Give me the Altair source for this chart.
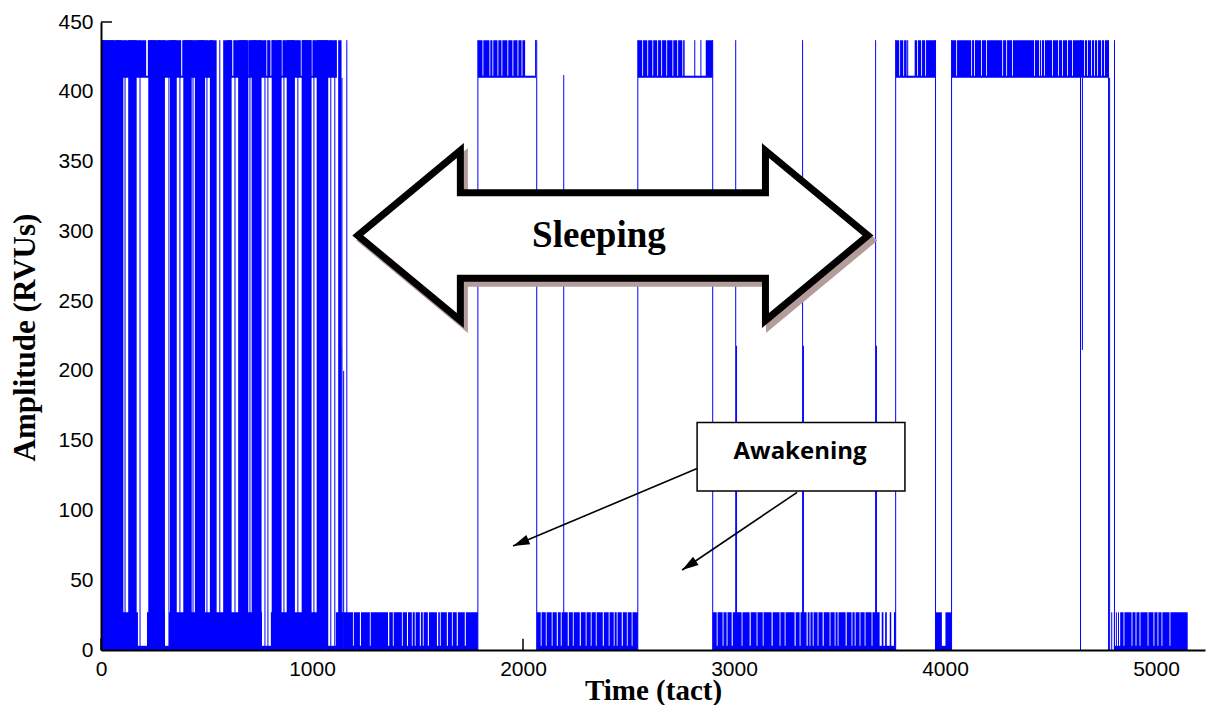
import altair as alt
import pandas as pd

BLUE = "#0000ff"
XMAX = 5232
W, H = 1104, 628

# ---------------- data ----------------
x_tick_values = [0, 1000, 2000, 3000, 4000, 5000]
y_tick_values = [0, 50, 100, 150, 200, 250, 300, 350, 400, 450]

LOW_LEVEL = (0, 27)      # low state of the signal (RVU)
HIGH_LEVEL = (410, 437)  # high state of the signal (RVU)
FULL_LEVEL = (0, 437)

# stretches where the signal jumps over the whole range many times
burst_start = [0, 129, 224, 327, 390, 445, 516, 579, 650, 714, 809, 880, 951, 1022, 1124]
burst_end = [106, 169, 303, 359, 430, 493, 548, 619, 698, 761, 856, 919, 998, 1077, 1140]

# stretches of fast switching inside the low state
low_start = [0, 1150, 2065, 2899, 3955, 4800]
low_end = [1150, 1786, 2544, 3766, 4031, 5150]

# stretches of fast switching inside the high state
high_start = [0, 597, 1786, 2544, 3766, 4031]
high_end = [530, 1118, 2060, 2899, 3955, 4775]

# short spells without switching inside the low state (signal stays near 0)
low_dip_start = [175, 303, 763, 1066,
                 1194, 1227, 1274, 1360, 1383, 1426, 1450, 1473, 1487, 1511, 1525, 1549,
                 1592, 1606, 1639, 1663, 1686, 1724,
                 2084, 2108, 2136, 2160, 2179, 2212, 2236, 2269, 2297, 2321, 2345, 2378,
                 2406, 2430, 2444, 2468, 2492, 2515,
                 2918, 2946, 2965, 2989, 3036, 3074, 3107, 3136, 3178, 3216, 3240, 3287,
                 3311, 3344, 3358, 3373, 3396, 3420, 3453, 3477, 3491, 3529, 3557, 3572,
                 3595, 3619, 3652, 3690, 3708, 3724, 3745,
                 3985,
                 4800, 4846, 4884, 4903, 4922, 4960, 4988, 5007, 5026, 5064]
low_dip_end = [218, 322, 805, 1113,
               1198, 1232, 1278, 1366, 1387, 1430, 1455, 1477, 1491, 1516, 1529, 1554,
               1598, 1610, 1644, 1667, 1691, 1729,
               2088, 2112, 2140, 2165, 2183, 2217, 2240, 2274, 2301, 2325, 2349, 2383,
               2410, 2434, 2448, 2473, 2496, 2519,
               2922, 2950, 2969, 2994, 3040, 3079, 3111, 3140, 3183, 3220, 3244, 3292,
               3315, 3349, 3362, 3377, 3400, 3425, 3457, 3481, 3495, 3534, 3561, 3576,
               3599, 3623, 3656, 3700, 3716, 3738, 3758,
               4002,
               4830, 4850, 4888, 4907, 4926, 4964, 4992, 5011, 5030, 5068]

# short spells without switching inside the high state (signal stays near 410)
high_dip_start = [62, 98, 214, 262, 286, 380, 452, 622, 693, 740, 784, 803, 827, 855, 947, 997,
                  1808, 1841, 1855, 1879, 1898, 1926, 1950, 1974, 1993, 2010,
                  2565, 2589, 2613, 2636, 2655, 2679, 2708, 2731, 2755, 2766,
                  3783, 3802, 3818, 3868, 3887, 3906,
                  4053, 4124, 4138, 4171, 4195, 4271, 4290, 4318, 4422, 4446, 4455, 4469,
                  4507, 4536, 4555, 4578, 4602, 4659, 4673, 4692, 4706, 4721, 4740, 4754]
high_dip_end = [67, 103, 222, 267, 291, 385, 457, 627, 698, 745, 789, 808, 832, 860, 952, 1002,
                1812, 1845, 1859, 1883, 1902, 1930, 1954, 1978, 1997, 2058,
                2569, 2593, 2617, 2640, 2659, 2683, 2712, 2735, 2759, 2866,
                3787, 3806, 3856, 3872, 3891, 3910,
                4057, 4128, 4142, 4175, 4199, 4275, 4294, 4322, 4426, 4450, 4459, 4473,
                4511, 4540, 4559, 4582, 4606, 4663, 4677, 4696, 4710, 4725, 4744, 4758]

# single jumps of the signal: time, from value, to value
jump_t = [114, 185, 322, 374, 436, 502, 563, 635, 706, 777, 791, 867, 933, 1009, 1089, 1108,
          1133, 1137, 1142, 1150, 1165,
          1786, 2060, 2065, 2193, 2544, 2814, 2843, 2899,
          3008, 3012, 3325, 3329, 3671, 3675,
          3766, 3823, 3955, 4031, 4642, 4651, 4775, 4780, 4803,
          4790, 4812, 4822]
jump_lo = [0] * 16 + [0, 0, 0, 0, 0,
                      0, 410, 0, 0, 0, 410, 410, 0,
                      0, 0, 0, 0, 0, 0,
                      0, 410, 0, 0, 0, 215, 0, 0, 0,
                      0, 0, 0]
jump_hi = [437] * 16 + [218, 218, 410, 200, 437,
                        437, 437, 437, 412, 437, 437, 437, 437,
                        437, 218, 437, 218, 437, 218,
                        437, 437, 437, 437, 437, 410, 437, 410, 437,
                        27, 27, 27]

# annotations (positions in data units)
sleep_label = "Sleeping"
sleep_at = (2426, 297)
awake_label = "Awakening"
awake_box = (2825, 3810, 114, 163)
awake_text_at = (3313, 142)
awake_arrow_from_t = [2825, 3299]
awake_arrow_from_v = [130, 113]
awake_arrow_to_t = [1953, 2754]
awake_arrow_to_v = [74.5, 57.3]
awake_arrow_angle = [247, 236]

# ---------------- frames ----------------
def span_frame(starts, ends, level):
    return pd.DataFrame({"t0": starts, "t1": ends, "v0": level[0], "v1": level[1]})

blue_rects = pd.concat([
    span_frame(low_start, low_end, LOW_LEVEL),
    span_frame(high_start, high_end, HIGH_LEVEL),
], ignore_index=True)
white_rects = pd.concat([
    span_frame(low_dip_start, low_dip_end, (3, 27.5)),
    span_frame(high_dip_start, high_dip_end, (411.5, 438)),
], ignore_index=True)
bursts = span_frame(burst_start, burst_end, FULL_LEVEL)
jumps = pd.DataFrame({"t0": jump_t, "v0": jump_lo, "v1": jump_hi})

xticks_df = pd.DataFrame({"t0": x_tick_values, "v0": 0, "v1": 8})
yticks_df = pd.DataFrame({"t0": 0, "t1": 52, "v0": y_tick_values})

xs = alt.Scale(domain=[0, XMAX], nice=False, zero=False)
ys = alt.Scale(domain=[0, 450], nice=False)

xaxis = alt.Axis(values=x_tick_values, format="d", tickSize=0, labelPadding=8,
                 labelFlush=False, labelOverlap=False, labelFont="Liberation Sans",
                 labelFontSize=21, labelColor="black", domainColor="black", domainWidth=2,
                 grid=False, title="Time (tact)", titleFont="Liberation Serif",
                 titleFontSize=29, titleFontWeight="bold", titleColor="black",
                 titleX=W / 2, titleY=49, titleBaseline="alphabetic", zindex=1)
yaxis = alt.Axis(values=y_tick_values, format="d", tickSize=0, labelPadding=8,
                 labelFlush=False, labelOverlap=False, labelFont="Liberation Sans",
                 labelFontSize=21, labelColor="black", domainColor="black", domainWidth=2,
                 grid=False, title="Amplitude (RVUs)", titleFont="Liberation Serif",
                 titleFontSize=31, titleFontWeight="bold", titleColor="black",
                 titleX=-67, titleY=H / 2 + 1, titleAngle=270,
                 titleBaseline="alphabetic", zindex=1)


def X(f="t0"):
    return alt.X(f"{f}:Q", scale=xs, axis=xaxis, title="Time (tact)")


def Y(f="v0"):
    return alt.Y(f"{f}:Q", scale=ys, axis=yaxis, title="Amplitude (RVUs)")


ticks_y = alt.Chart(yticks_df).mark_rule(color="black", strokeWidth=1.5).encode(
    x=X("t0"), x2="t1:Q", y=Y("v0"))
ticks_x = alt.Chart(xticks_df).mark_rule(color="black", strokeWidth=1.5).encode(
    x=X("t0"), y=Y("v0"), y2="v1:Q")

bands = alt.Chart(blue_rects).mark_rect(color=BLUE).encode(
    x=X("t0"), x2="t1:Q", y=Y("v0"), y2="v1:Q")
dips = alt.Chart(white_rects).mark_rect(color="white").encode(
    x=X("t0"), x2="t1:Q", y=Y("v0"), y2="v1:Q")
burst_layer = alt.Chart(bursts).mark_rect(color=BLUE).encode(
    x=X("t0"), x2="t1:Q", y=Y("v0"), y2="v1:Q")
jump_layer = alt.Chart(jumps).mark_rule(color=BLUE, strokeWidth=1).encode(
    x=X("t0"), y=Y("v0"), y2="v1:Q")

# big double arrow "Sleeping"
arrow_path = ("M-0.985,0 L-0.589,-0.328 L-0.589,-0.165 L0.589,-0.165 L0.589,-0.328 "
              "L0.985,0 L0.589,0.328 L0.589,0.165 L-0.589,0.165 L-0.589,0.328 Z")
sleep_df = pd.DataFrame({"t0": [sleep_at[0]], "v0": [sleep_at[1]], "label": [sleep_label]})
arrow_shadow = alt.Chart(sleep_df).mark_point(
    shape=arrow_path, size=518 ** 2, filled=True, fill="#b39c9a", stroke="#b39c9a",
    strokeWidth=7, strokeJoin="miter", opacity=1, xOffset=4, yOffset=5).encode(
    x=X("t0"), y=Y("v0"))
arrow_main = alt.Chart(sleep_df).mark_point(
    shape=arrow_path, size=518 ** 2, filled=True, fill="white", stroke="black",
    strokeWidth=7, strokeJoin="miter", opacity=1).encode(
    x=X("t0"), y=Y("v0"))
sleep_text = alt.Chart(sleep_df).mark_text(
    font="Liberation Serif", fontWeight="bold", fontSize=37, color="black",
    align="center", baseline="middle", dx=-14, dy=0).encode(
    x=X("t0"), y=Y("v0"), text="label:N")

# "Awakening" call-out
box_df = pd.DataFrame({"t0": [awake_box[0]], "t1": [awake_box[1]],
                       "v0": [awake_box[2]], "v1": [awake_box[3]]})
box = alt.Chart(box_df).mark_rect(fill="white", stroke="black", strokeWidth=1.5).encode(
    x=X("t0"), x2="t1:Q", y=Y("v0"), y2="v1:Q")
awake_df = pd.DataFrame({"t0": [awake_text_at[0]], "v0": [awake_text_at[1]],
                         "label": [awake_label]})
awake_text = alt.Chart(awake_df).mark_text(
    font="Open Sans", fontWeight="bold", fontSize=24, color="black",
    align="center", baseline="middle").encode(
    x=X("t0"), y=Y("v0"), text="label:N")
arr_df = pd.DataFrame({"t0": awake_arrow_from_t, "v0": awake_arrow_from_v,
                       "t1": awake_arrow_to_t, "v1": awake_arrow_to_v,
                       "ang": awake_arrow_angle})
arr_lines = alt.Chart(arr_df).mark_rule(color="black", strokeWidth=1.6).encode(
    x=X("t0"), y=Y("v0"), x2="t1:Q", y2="v1:Q")
arr_heads = alt.Chart(arr_df).mark_point(
    shape="M0,0L-0.9,3L0.9,3Z", size=121, filled=True, color="black", opacity=1).encode(
    x=X("t1"), y=Y("v1"), angle=alt.Angle("ang:Q", scale=None))

chart = alt.layer(
    ticks_y, ticks_x, bands, dips, burst_layer, jump_layer,
    arrow_shadow, arrow_main, sleep_text, arr_lines, arr_heads, box, awake_text,
).properties(
    width=W, height=H,
    padding={"left": 93, "top": 14, "right": 2, "bottom": 55},
    autosize=alt.AutoSizeParams(type="none"),
    background="white",
).configure_view(stroke=None)

chart.save("out.html", embed_options={"renderer": "svg", "actions": False})
